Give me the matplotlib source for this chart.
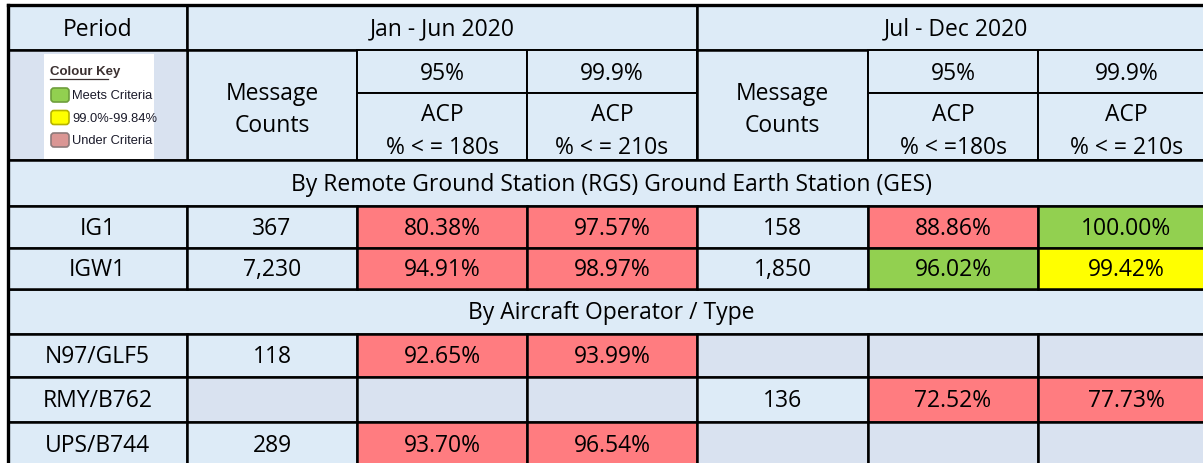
import matplotlib.pyplot as plt
from matplotlib.patches import Rectangle, FancyBboxPatch

# table contents
periods = ['Jan - Jun 2020', 'Jul - Dec 2020']
acp_labels = [['% < = 180s', '% < = 210s'], ['% < =180s', '% < = 210s']]
rgs_names = ['IG1', 'IGW1']
rgs_counts = [[367, 7230], [158, 1850]]
rgs_acp95 = [[80.38, 94.91], [88.86, 96.02]]
rgs_acp999 = [[97.57, 98.97], [100.00, 99.42]]
ops_names = ['N97/GLF5', 'RMY/B762', 'UPS/B744']
ops_counts = [[118, None, 289], [None, 136, None]]
ops_acp95 = [[92.65, None, 93.70], [None, 72.52, None]]
ops_acp999 = [[93.99, None, 96.54], [None, 77.73, None]]
key_labels = ['Meets Criteria', '99.0%-99.84%', 'Under Criteria']

BG = '#DDEBF7'
EMPTY = '#D9E2F0'
GREEN = '#92D050'
YELLOW = '#FFFF00'
RED = '#FF7C80'
KEY_COLS = [('#92D050', '#6E9E3C'), ('#FFFF00', '#B8B400'), ('#DA9694', '#8C7A7A')]

FONT = ['Open Sans', 'DejaVu Sans']
KEY_FONT = ['Liberation Sans', 'DejaVu Sans']
FS = 16.5
LW = 1.8

# grid lines (pixels)
xs = [8, 187, 357, 527, 697, 868, 1038, 1215]
ys = [6, 51, 94, 161, 207, 249, 290, 335, 378, 423, 468]

fig = plt.figure(figsize=(12.03, 4.64), dpi=100)
ax = fig.add_axes([0, 0, 1, 1])
ax.set_xlim(0, 1203)
ax.set_ylim(464, 0)
ax.axis('off')


def cell(c0, c1, r0, r1, color=BG, text=None, lw=LW):
    x0, x1, y0, y1 = xs[c0], xs[c1], ys[r0], ys[r1]
    ax.add_patch(Rectangle((x0, y0), x1 - x0, y1 - y0, facecolor=color,
                           edgecolor='black', lw=lw))
    if text is not None:
        dy = 4 if '\n' in text else 1
        ax.text((x0 + x1) / 2, (y0 + y1) / 2 + dy, text, ha='center', va='center',
                fontsize=FS, family=FONT, linespacing=1.45)


def acp_colour(v, target):
    if v is None:
        return EMPTY
    if v >= target:
        return GREEN
    if target == 99.9 and v >= 99.0:
        return YELLOW
    return RED


def fmt_pct(v):
    return None if v is None else f'{v:.2f}%'


def fmt_count(v):
    return None if v is None else f'{v:,}'


# header
cell(0, 1, 0, 1, text='Period')
for p in range(2):
    c = 1 + 3 * p
    cell(c, c + 3, 0, 1, text=periods[p])
    cell(c, c + 1, 1, 3, text='Message\nCounts')
    cell(c + 1, c + 2, 1, 2, text='95%', lw=1.4)
    cell(c + 2, c + 3, 1, 2, text='99.9%', lw=1.4)
    cell(c + 1, c + 2, 2, 3, text='ACP\n' + acp_labels[p][0], lw=1.4)
    cell(c + 2, c + 3, 2, 3, text='ACP\n' + acp_labels[p][1], lw=1.4)
cell(0, 1, 1, 3, color=EMPTY)

# colour key
ax.add_patch(Rectangle((44, 55), 110, 105, facecolor='white', edgecolor='none'))
ax.text(50, 72, 'Colour Key', fontsize=9.5, family=KEY_FONT, weight='bold',
        color='#3B3030', va='center', ha='left')
ax.plot([50, 108], [80, 80], color='#3B3030', lw=0.9)
for i, (lab, (fc, ec)) in enumerate(zip(key_labels, KEY_COLS)):
    yc = 96 + i * 22.5
    ax.add_patch(FancyBboxPatch((51, yc - 7), 18, 14, boxstyle='round,pad=0,rounding_size=3',
                                facecolor=fc, edgecolor=ec, lw=1.2))
    ax.text(72, yc, lab, fontsize=9.3, family=KEY_FONT,
            color='#1A1A2A', va='center', ha='left')

# section rows
cell(0, 7, 3, 4, text='By Remote Ground Station (RGS) Ground Earth Station (GES)')
cell(0, 7, 6, 7, text='By Aircraft Operator / Type')

for i, name in enumerate(rgs_names):
    r = 4 + i
    cell(0, 1, r, r + 1, text=name)
    for p in range(2):
        c = 1 + 3 * p
        cell(c, c + 1, r, r + 1, text=fmt_count(rgs_counts[p][i]))
        cell(c + 1, c + 2, r, r + 1, acp_colour(rgs_acp95[p][i], 95.0), fmt_pct(rgs_acp95[p][i]))
        cell(c + 2, c + 3, r, r + 1, acp_colour(rgs_acp999[p][i], 99.9), fmt_pct(rgs_acp999[p][i]))

for i, name in enumerate(ops_names):
    r = 7 + i
    cell(0, 1, r, r + 1, text=name)
    for p in range(2):
        c = 1 + 3 * p
        v = ops_counts[p][i]
        cell(c, c + 1, r, r + 1, BG if v is not None else EMPTY, fmt_count(v))
        cell(c + 1, c + 2, r, r + 1, acp_colour(ops_acp95[p][i], 95.0), fmt_pct(ops_acp95[p][i]))
        cell(c + 2, c + 3, r, r + 1, acp_colour(ops_acp999[p][i], 99.9), fmt_pct(ops_acp999[p][i]))

# thicker outer border on the left and top
ax.plot([xs[0], xs[0]], [ys[0], 464], color='black', lw=2.4)
ax.plot([xs[0], 1203], [ys[0], ys[0]], color='black', lw=2.4)

fig.savefig('out.png', dpi=100, facecolor='white')
